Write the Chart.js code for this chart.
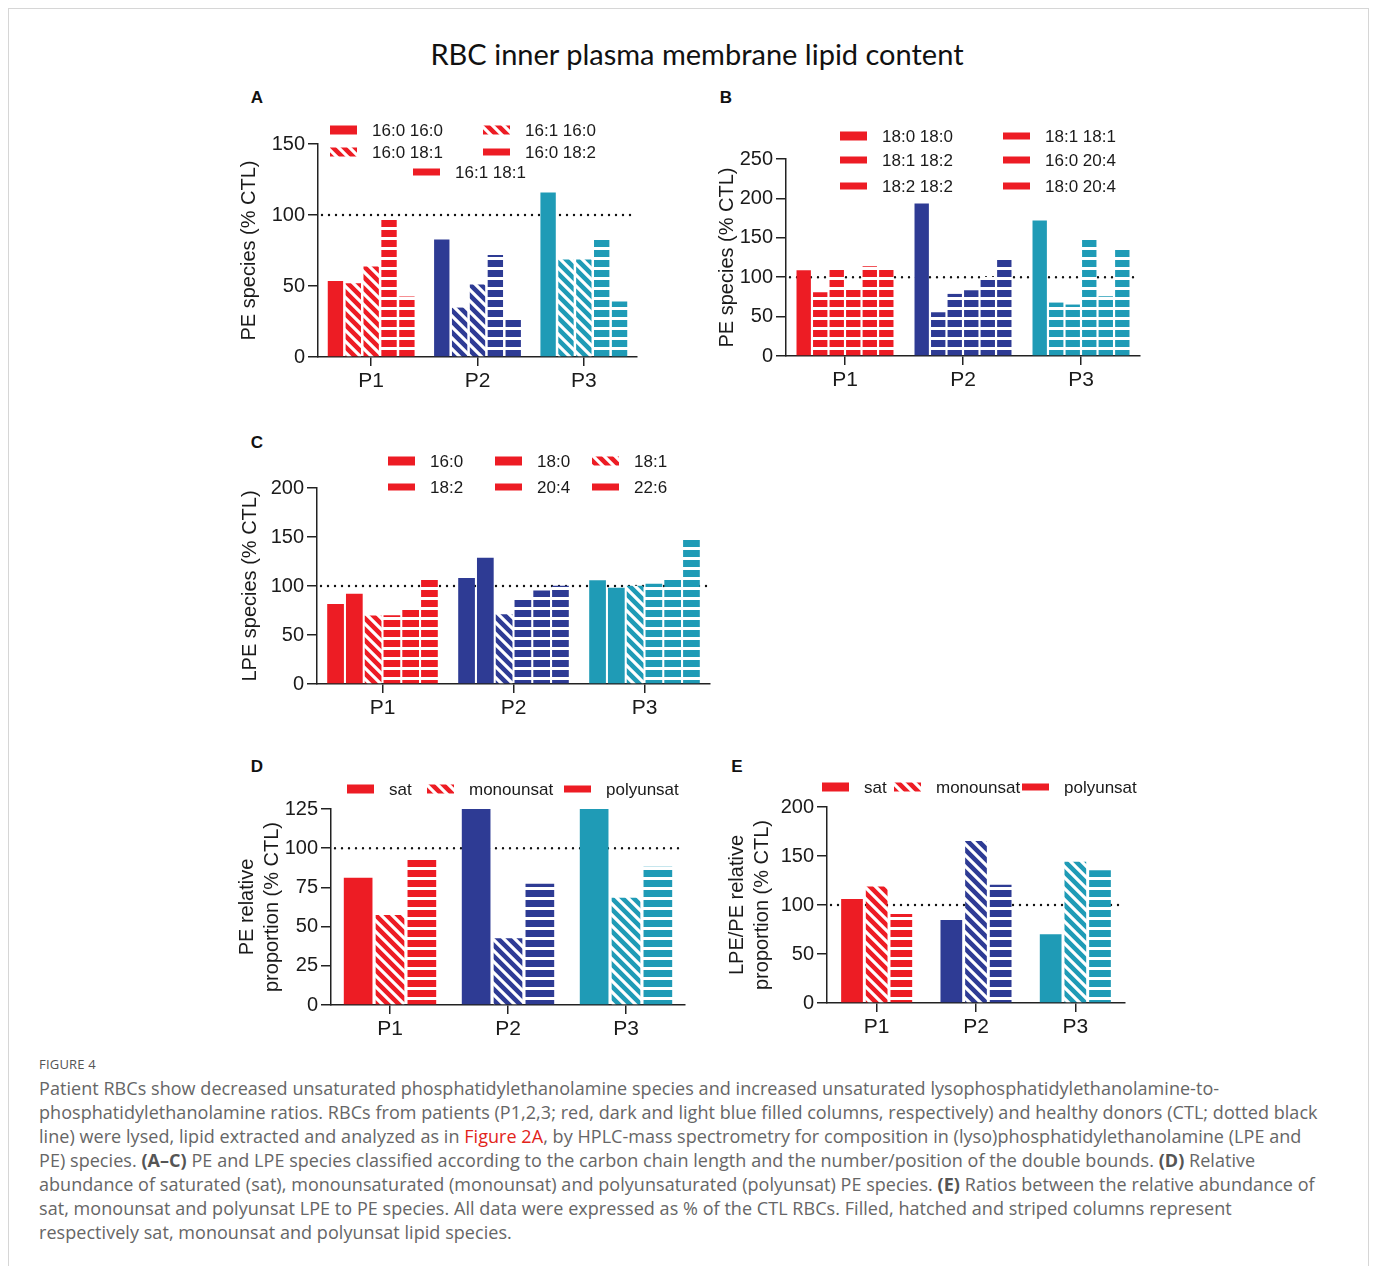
<!DOCTYPE html>
<html>
<head>
<meta charset="utf-8">
<script src="https://cdn.jsdelivr.net/npm/chart.js@4/dist/chart.umd.min.js"></script>
<style>
  html, body { margin: 0; padding: 0; background: #fff; }
  body { width: 1375px; height: 1266px; position: relative; overflow: hidden; font-family: "Liberation Sans", Arial, sans-serif; }
  .frame { position: absolute; left: 8px; top: 8px; width: 1361px; height: 1280px; border: 1px solid #d6d6d6; box-sizing: border-box; }
  .title { position: absolute; left: 0; top: 36px; width: 1394px; text-align: center; font-family: Lato, "Open Sans", sans-serif; font-size: 29px; color: #111; }
  .letter { position: absolute; font-weight: bold; font-size: 17px; color: #111; transform: translate(-50%, -50%); }
  .panel { position: absolute; }
  .figlabel { position: absolute; left: 39px; top: 1055px; font-family: "Open Sans", sans-serif; font-size: 13px; color: #555; letter-spacing: 0.2px; }
  .caption { position: absolute; left: 39px; top: 1076px; font-family: "Open Sans", sans-serif; font-size: 18px; letter-spacing: 0.05px; line-height: 24px; color: #666; white-space: nowrap; }
  .caption b { color: #555; }
  .caption .ref { color: #e2231a; }
</style>
</head>
<body>
<div class="frame"></div>
<div class="title">RBC inner plasma membrane lipid content</div>
<div class="letter" style="left:257px;top:98px">A</div>
<div class="letter" style="left:726px;top:98px">B</div>
<div class="letter" style="left:257px;top:443px">C</div>
<div class="letter" style="left:257px;top:767px">D</div>
<div class="letter" style="left:737px;top:767px">E</div>

<canvas class="panel" id="chartA" width="430" height="305" style="left:225px;top:100px"></canvas>
<canvas class="panel" id="chartB" width="460" height="305" style="left:700px;top:100px"></canvas>
<canvas class="panel" id="chartC" width="495" height="295" style="left:225px;top:440px"></canvas>
<canvas class="panel" id="chartD" width="475" height="280" style="left:225px;top:770px"></canvas>
<canvas class="panel" id="chartE" width="450" height="280" style="left:715px;top:770px"></canvas>

<div class="figlabel">FIGURE 4</div>
<div class="caption">Patient RBCs show decreased unsaturated phosphatidylethanolamine species and increased unsaturated lysophosphatidylethanolamine-to-<br>phosphatidylethanolamine ratios. RBCs from patients (P1,2,3; red, dark and light blue filled columns, respectively) and healthy donors (CTL; dotted black<br>line) were lysed, lipid extracted and analyzed as in <span class="ref">Figure 2A</span>, by HPLC-mass spectrometry for composition in (lyso)phosphatidylethanolamine (LPE and<br>PE) species. <b>(A–C)</b> PE and LPE species classified according to the carbon chain length and the number/position of the double bounds. <b>(D)</b> Relative<br>abundance of saturated (sat), monounsaturated (monounsat) and polyunsaturated (polyunsat) PE species. <b>(E)</b> Ratios between the relative abundance of<br>sat, monounsat and polyunsat LPE to PE species. All data were expressed as % of the CTL RBCs. Filled, hatched and striped columns represent<br>respectively sat, monounsat and polyunsat lipid species.</div>

<script>
// ---- data -------------------------------------------------------------
const patients = ['P1', 'P2', 'P3'];
const patientColors = ['#ed1c24', '#2e3b94', '#1f9bb6'];
const ctlLevel = 100;

// A: PE species (% CTL)
const speciesA = ['16:0 16:0', '16:1 16:0', '16:0 18:1', '16:0 18:2', '16:1 18:1'];
const fillA = ['solid', 'hatch', 'hatch', 'stripe', 'stripe'];
const peA_160_160 = [53.6, 82.8, 115.9];
const peA_161_160 = [52.0, 34.8, 68.7];
const peA_160_181 = [63.7, 51.0, 68.7];
const peA_160_182 = [98.0, 71.9, 83.2];
const peA_161_181 = [42.6, 26.8, 39.0];
const ticksA = [0, 50, 100, 150];

// B: PE species (% CTL)
const speciesB = ['18:0 18:0', '18:1 18:1', '18:1 18:2', '16:0 20:4', '18:2 18:2', '18:0 20:4'];
const fillB = ['solid', 'stripe', 'stripe', 'stripe', 'stripe', 'stripe'];
const peB_180_180 = [108.9, 193.6, 172.0];
const peB_181_181 = [80.9, 55.5, 67.8];
const peB_181_182 = [113.1, 78.8, 65.3];
const peB_160_204 = [86.4, 83.5, 149.2];
const peB_182_182 = [114.0, 100.4, 75.8];
const peB_180_204 = [111.9, 124.6, 134.7];
const ticksB = [0, 50, 100, 150, 200, 250];

// C: LPE species (% CTL)
const speciesC = ['16:0', '18:0', '18:1', '18:2', '20:4', '22:6'];
const fillC = ['solid', 'solid', 'hatch', 'stripe', 'stripe', 'stripe'];
const lpe_160 = [81.7, 108.1, 105.8];
const lpe_180 = [92.2, 128.8, 98.3];
const lpe_181 = [69.8, 71.2, 100.3];
const lpe_182 = [70.2, 87.8, 102.4];
const lpe_204 = [76.3, 95.3, 108.5];
const lpe_226 = [108.5, 100.3, 149.8];
const ticksC = [0, 50, 100, 150, 200];

// D: PE relative proportion (% CTL)
const classes = ['sat', 'monounsat', 'polyunsat'];
const fillClasses = ['solid', 'hatch', 'stripe'];
const peSat = [81.1, 125, 125];
const peMono = [57.4, 42.6, 68.4];
const pePoly = [92.4, 77.3, 88.1];
const ticksD = [0, 25, 50, 75, 100, 125];

// E: LPE/PE relative proportion (% CTL)
const ratioSat = [106.1, 84.7, 70.1];
const ratioMono = [119.0, 165.3, 144.2];
const ratioPoly = [90.8, 120.7, 135.4];
const ticksE = [0, 50, 100, 150, 200];

// ---- fills -------------------------------------------------------------
function makeFill(color, kind) {
  if (kind === 'solid') return color;
  const c = document.createElement('canvas');
  const g = c.getContext('2d');
  if (kind === 'stripe') {
    c.width = 8; c.height = 10;
    g.fillStyle = color; g.fillRect(0, 0, 8, 10);
    g.fillStyle = '#fff'; g.fillRect(0, 7, 8, 3);
  } else {
    const s = 11;
    c.width = s; c.height = s;
    g.fillStyle = color; g.fillRect(0, 0, s, s);
    g.strokeStyle = '#fff'; g.lineWidth = 3.2;
    g.beginPath();
    for (const k of [-s, 0, s]) { g.moveTo(-2, -2 + k); g.lineTo(s + 2, s + 2 + k); }
    g.stroke();
  }
  return g.createPattern(c, 'repeat');
}

// ---- panel builder -----------------------------------------------------
const AXIS = '#222';
const TXT = '#1a1a1a';

function panel(id, box, area, labels, kinds, series, ticks, yTitle, titlePad, barOpts, key) {
  const canvas = document.getElementById(id);
  const yMax = ticks[ticks.length - 1];
  const step = ticks[1] - ticks[0];
  const datasets = series.map((vals, i) => ({
    label: labels[i],
    data: vals,
    backgroundColor: patientColors.map(c => makeFill(c, kinds[i])),
    borderWidth: 0,
    categoryPercentage: barOpts.cat,
    barPercentage: barOpts.bar
  }));

  // dotted CTL reference line, drawn behind the bars
  const ctlLine = {
    id: 'ctlLine',
    beforeDatasetsDraw(chart) {
      const { ctx, chartArea } = chart;
      const y = chart.scales.y.getPixelForValue(ctlLevel);
      ctx.save();
      ctx.strokeStyle = '#111';
      ctx.lineWidth = 2.4;
      ctx.lineCap = 'round';
      ctx.setLineDash([0, 7]);
      ctx.beginPath();
      ctx.moveTo(chartArea.left + 4, y);
      ctx.lineTo(chartArea.right - 2, y);
      ctx.stroke();
      ctx.restore();
    }
  };

  // series key laid out in a grid over the plot
  const seriesKey = {
    id: 'seriesKey',
    afterDraw(chart) {
      const ctx = chart.ctx;
      ctx.save();
      ctx.font = '17px "Liberation Sans", Arial, sans-serif';
      ctx.textBaseline = 'middle';
      chart.data.datasets.forEach((ds, i) => {
        const p = key[i];
        const sx = p[0] - box.left, y = p[1] - box.top;
        const kind = kinds[i];
        if (kind === 'stripe') {
          ctx.fillStyle = patientColors[0];
          ctx.fillRect(sx, y - 3.5, 27, 7);
        } else {
          ctx.fillStyle = ds.backgroundColor[0];
          ctx.fillRect(sx, y - 4.5, 27, 9);
        }
        ctx.fillStyle = TXT;
        ctx.fillText(ds.label, sx + 42, y + 1);
      });
      ctx.restore();
    }
  };

  return new Chart(canvas, {
    type: 'bar',
    data: { labels: patients, datasets },
    plugins: [ctlLine, seriesKey],
    options: {
      responsive: false,
      animation: false,
      devicePixelRatio: 1,
      layout: { padding: { left: 0, top: area.top - box.top, right: box.left + box.width - area.right, bottom: 0 } },
      plugins: { legend: { display: false }, tooltip: { enabled: false } },
      scales: {
        x: {
          offset: true,
          grid: { offset: false, drawOnChartArea: false, drawTicks: true, tickLength: 9, color: AXIS, lineWidth: 1.5 },
          border: { display: true, color: AXIS, width: 1.5 },
          ticks: { color: TXT, font: { size: 21, family: '"Liberation Sans", Arial' }, padding: 3 },
          afterFit(s) { s.height = box.top + box.height - area.bottom; }
        },
        y: {
          min: 0, max: yMax,
          grid: { drawOnChartArea: false, drawTicks: true, tickLength: 10, color: AXIS, lineWidth: 1.5 },
          border: { display: true, color: AXIS, width: 1.5 },
          ticks: { stepSize: step, color: TXT, font: { size: 20, family: '"Liberation Sans", Arial' }, padding: 3 },
          title: { display: true, text: yTitle, color: TXT, font: { size: 20, family: '"Liberation Sans", Arial', lineHeight: 1.25 }, padding: { top: titlePad, bottom: 0 } },
          afterFit(s) { s.width = area.left - box.left; }
        }
      }
    }
  });
}

panel('chartA', { left: 225, top: 100, width: 430, height: 305 }, { left: 318, top: 144, right: 637, bottom: 357 },
  speciesA, fillA, [peA_160_160, peA_161_160, peA_160_181, peA_160_182, peA_161_181], ticksA,
  'PE species (% CTL)', 11.5, { cat: 0.84, bar: 0.86 },
  [[330, 130], [483, 130], [330, 152], [483, 152], [413, 172]]);

panel('chartB', { left: 700, top: 100, width: 460, height: 305 }, { left: 786, top: 159, right: 1140, bottom: 356 },
  speciesB, fillB, [peB_180_180, peB_181_181, peB_181_182, peB_160_204, peB_182_182, peB_180_204], ticksB,
  'PE species (% CTL)', 14.5, { cat: 0.84, bar: 0.87 },
  [[840, 136], [1003, 136], [840, 160], [1003, 160], [840, 186], [1003, 186]]);

panel('chartC', { left: 225, top: 440, width: 495, height: 295 }, { left: 317, top: 488, right: 710, bottom: 684 },
  speciesC, fillC, [lpe_160, lpe_180, lpe_181, lpe_182, lpe_204, lpe_226], ticksC,
  'LPE species (% CTL)', 12.5, { cat: 0.86, bar: 0.89 },
  [[388, 461], [495, 461], [592, 461], [388, 487], [495, 487], [592, 487]]);

panel('chartD', { left: 225, top: 770, width: 475, height: 280 }, { left: 331, top: 809, right: 685, bottom: 1005 },
  classes, fillClasses, [peSat, peMono, pePoly], ticksD,
  ['PE relative', 'proportion (% CTL)'], 9.5, { cat: 0.81, bar: 0.9 },
  [[347, 789], [427, 789], [564, 789]]);

panel('chartE', { left: 715, top: 770, width: 450, height: 280 }, { left: 827, top: 807, right: 1125, bottom: 1003 },
  classes, fillClasses, [ratioSat, ratioMono, ratioPoly], ticksE,
  ['LPE/PE relative', 'proportion (% CTL)'], 9.5, { cat: 0.745, bar: 0.88 },
  [[822, 787], [894, 787], [1022, 787]]);
</script>
</body>
</html>
